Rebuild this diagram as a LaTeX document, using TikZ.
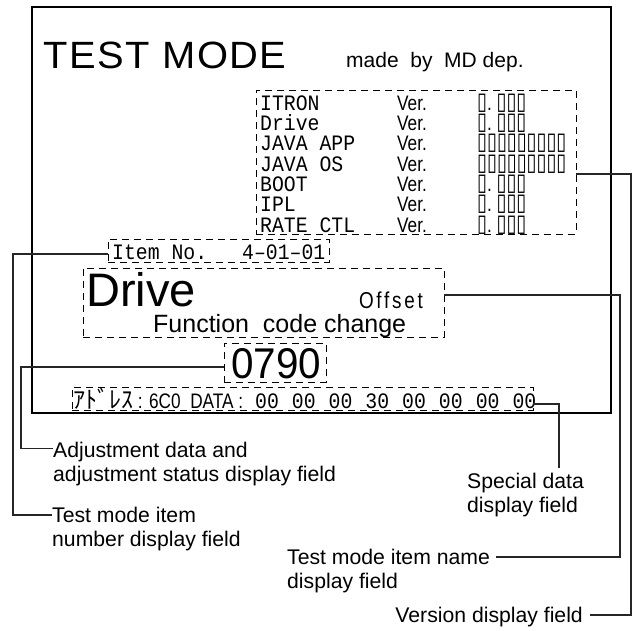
\documentclass[tikz,border=0pt]{standalone}
\usepackage{fontspec}
\setmainfont{Liberation Sans}
\newfontfamily\narrowfont[FakeStretch=0.82]{Liberation Sans}
\newfontfamily\spacedfont[FakeStretch=0.82,LetterSpace=12]{Liberation Sans}
\newfontfamily\lcdfont[FakeStretch=0.9]{Liberation Mono}
\newfontfamily\boxfont[FakeStretch=0.75]{DejaVu Sans}
\newfontfamily\jpfont{Noto Sans CJK JP}
\newcommand{\vbx}[1]{\raisebox{1pt}{\boxfont\fontsize{24}{22}\selectfont #1}}
\newcommand{\lcd}{\lcdfont\fontsize{22}{22}\selectfont}
\usetikzlibrary{positioning}

\tikzset{
  screen/.style={draw, line width=2pt, inner sep=0pt},
  dashbox/.style={draw, line width=0.9pt, dash pattern=on 7pt off 5pt, inner sep=0pt},
  leader/.style={draw, line width=1.1pt, black!85},
  lbl/.style={inner sep=0pt, align=left, font=\fontsize{21.2}{24.5}\selectfont},
  txt/.style={inner sep=0pt, anchor=base west},
  verrow/.style={txt, font=\narrowfont\fontsize{21}{22}\selectfont},
}

\begin{document}
\begin{tikzpicture}[x=1pt, y=-1pt]
        \useasboundingbox (0,0) rectangle (639,630);

        % Display frame
        \node[screen, minimum width=579pt, minimum height=406pt] (screen) at (321.5,210) {};

        % Title line
        \node[txt, font=\addfontfeature{FakeStretch=1.05,LetterSpace=4}\fontsize{38}{40}\selectfont] (title) at (43,68) {TEST MODE};
        \node[txt, font=\fontsize{21}{24}\selectfont] (maker) at (346,67) {made~ by~ MD dep.};

        % Version list
        \node[dashbox, minimum width=320pt, minimum height=144pt] (verbox) at (416,162) {};
        \node[verrow] (ver1) at (260,110) {\makebox[137pt][l]{\lcd ITRON}\makebox[80pt][l]{Ver.}\vbx{▯}.\ \vbx{▯▯▯}};
        \node[verrow] (ver2) at (260,130.3) {\makebox[137pt][l]{\lcd Drive}\makebox[80pt][l]{Ver.}\vbx{▯}.\ \vbx{▯▯▯}};
        \node[verrow] (ver3) at (260,150.7) {\makebox[137pt][l]{\lcd JAVA APP}\makebox[80pt][l]{Ver.}\vbx{▯▯▯▯▯▯▯▯▯}};
        \node[verrow] (ver4) at (260,171) {\makebox[137pt][l]{\lcd JAVA OS}\makebox[80pt][l]{Ver.}\vbx{▯▯▯▯▯▯▯▯▯}};
        \node[verrow] (ver5) at (260,191.3) {\makebox[137pt][l]{\lcd BOOT}\makebox[80pt][l]{Ver.}\vbx{▯}.\ \vbx{▯▯▯}};
        \node[verrow] (ver6) at (260,211.7) {\makebox[137pt][l]{\lcd IPL}\makebox[80pt][l]{Ver.}\vbx{▯}.\ \vbx{▯▯▯}};
        \node[verrow] (ver7) at (260,232) {\makebox[137pt][l]{\lcd RATE CTL}\makebox[80pt][l]{Ver.}\vbx{▯}.\ \vbx{▯▯▯}};

        % Item number
        \node[dashbox, minimum width=221pt, minimum height=23pt] (itembox) at (218.5,250.5) {};
        \node[txt, font=\lcd] (itemno) at (112,259) {\makebox[130pt][l]{Item No.}4–01–01};

        % Item name
        \node[dashbox, minimum width=361pt, minimum height=69pt] (namebox) at (263.5,302.5) {};
        \node[txt, font=\fontsize{47}{50}\selectfont] (drive) at (86,306) {Drive};
        \node[txt, anchor=base east, font=\spacedfont\fontsize{23}{26}\selectfont] (offset) at (423,308) {Offset};
        \node[txt, font=\fontsize{25}{28}\selectfont] (funccode) at (153,332) {Function\ \ code change};

        % Adjustment value
        \node[dashbox, minimum width=102pt, minimum height=39pt] (valbox) at (275,362.5) {};
        \node[txt, font=\addfontfeature{FakeStretch=0.94}\fontsize{43}{46}\selectfont] (value) at (231,378) {0790};

        % Special data
        \node[dashbox, minimum width=461pt, minimum height=23pt] (databox) at (302.5,398.5) {};
        \node[verrow] (datarow) at (73,408) {\makebox[182pt][l]{{\jpfont\fontsize{24}{22}\selectfont ｱﾄﾞﾚｽ} : 6C0\ \ DATA :}{\lcd\spaceskip=13pt 00 00 00 30 00 00 00 00}};

        % Field labels
        \node[lbl, anchor=north west] (adjlbl) at (53,441.5) {Adjustment data and\\adjustment status display field};
        \node[lbl, anchor=north west] (itemlbl) at (52,506.5) {Test mode item\\number display field};
        \node[lbl, anchor=north west] (speclbl) at (467,472.5) {Special data\\display field};
        \node[lbl, anchor=north west] (namelbl) at (287,548.5) {Test mode item name\\display field};
        \node[lbl, anchor=base east] (verlbl) at (583,622) {Version display field};

        % Leader ends and bus lines
        \coordinate (adjend) at ([yshift=-7pt]adjlbl.north west);
        \coordinate (itemend) at ([yshift=-8.5pt]itemlbl.north west);
        \coordinate (specend) at ([yshift=5pt]speclbl.north);
        \coordinate (nameend) at ([xshift=6pt,yshift=-8.5pt]namelbl.north east);
        \coordinate (verend) at ([xshift=7pt,yshift=7pt]verlbl.base east);
        \coordinate (itembus) at (13,0);
        \coordinate (adjbus) at (21,0);
        \coordinate (specbus) at (559,0);
        \coordinate (namebus) at (620,0);
        \coordinate (verbus) at (631,0);

        % Leaders
        \draw[leader] ([yshift=-12pt]verbox.east) -| (verbus |- verend) -- (verend);
        \draw[leader] ([yshift=7.5pt]namebox.east) -| (namebus |- nameend) -- (nameend);
        \draw[leader] ([yshift=-5.5pt]databox.east) -| (specbus |- specend);
        \draw[leader] ([yshift=-4.5pt]valbox.west) -| (adjbus |- adjend) -- (adjend);
        \draw[leader] ([yshift=-3.5pt]itembox.west) -| (itembus |- itemend) -- (itemend);

    \end{tikzpicture}
\end{document}
